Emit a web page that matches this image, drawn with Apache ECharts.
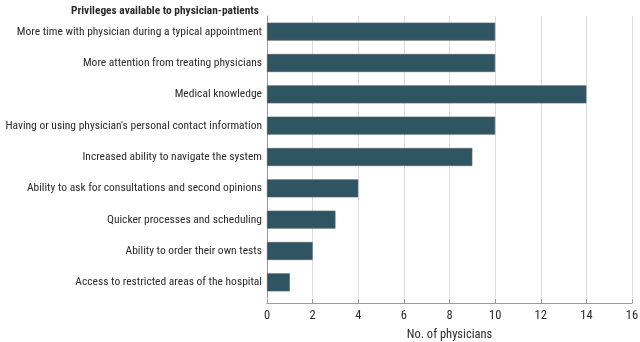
<!DOCTYPE html>
<html>
<head>
<meta charset="utf-8">
<script src="https://cdn.jsdelivr.net/npm/echarts@6/dist/echarts.min.js"></script>
<style>
  html, body { margin: 0; padding: 0; background: #fff; }
  #chart { width: 640px; height: 342px; }
</style>
</head>
<body>
<div id="chart"></div>
<script>
// Privileges reported by physicians when they are patients themselves
const categories = [
  "More time with physician during a typical appointment",
  "More attention from treating physicians",
  "Medical knowledge",
  "Having or using physician's personal contact information",
  "Increased ability to navigate the system",
  "Ability to ask for consultations and second opinions",
  "Quicker processes and scheduling",
  "Ability to order their own tests",
  "Access to restricted areas of the hospital"
];
const physicianCounts = [10, 10, 14, 10, 9, 4, 3, 2, 1];
const xTicks = [0, 2, 4, 6, 8, 10, 12, 14, 16];

const FONT = '"Roboto Condensed", "DejaVu Sans Condensed", sans-serif';
const TEXT = '#2b2b2b';

const chart = echarts.init(document.getElementById('chart'), null, { renderer: 'canvas' });
chart.setOption({
  animation: false,
  title: {
    text: 'Privileges available to physician-patients',
    right: 376,
    top: 1,
    textStyle: { fontFamily: FONT, fontSize: 11.4, fontWeight: 'bold', color: TEXT }
  },
  grid: { left: 267, right: 8, top: 16, bottom: 44, containLabel: false, outerBoundsMode: 'none' },
  xAxis: {
    type: 'value',
    min: xTicks[0],
    max: xTicks[xTicks.length - 1],
    interval: 2,
    offset: 5,
    name: 'No. of physicians',
    nameLocation: 'middle',
    nameGap: 25,
    nameTextStyle: { fontFamily: FONT, fontSize: 12.5, color: TEXT },
    axisLine: { show: true, lineStyle: { color: '#9a9a9a', width: 1 } },
    axisTick: { show: true, inside: true, length: 4, lineStyle: { color: '#9a9a9a' } },
    axisLabel: { fontFamily: FONT, fontSize: 12.5, color: TEXT, margin: 6 },
    splitLine: { show: true, lineStyle: { color: '#dcdcdc', width: 1 } }
  },
  yAxis: {
    type: 'category',
    inverse: true,
    data: categories,
    axisLine: { show: true, lineStyle: { color: '#9a9a9a', width: 1 } },
    axisTick: { show: false },
    axisLabel: { fontFamily: FONT, fontSize: 11.5, color: TEXT, margin: 5 }
  },
  series: [{
    type: 'bar',
    data: physicianCounts,
    barWidth: 18,
    itemStyle: { color: '#2f5563', borderColor: '#555f63', borderWidth: 0.6 }
  }]
});
</script>
</body>
</html>
